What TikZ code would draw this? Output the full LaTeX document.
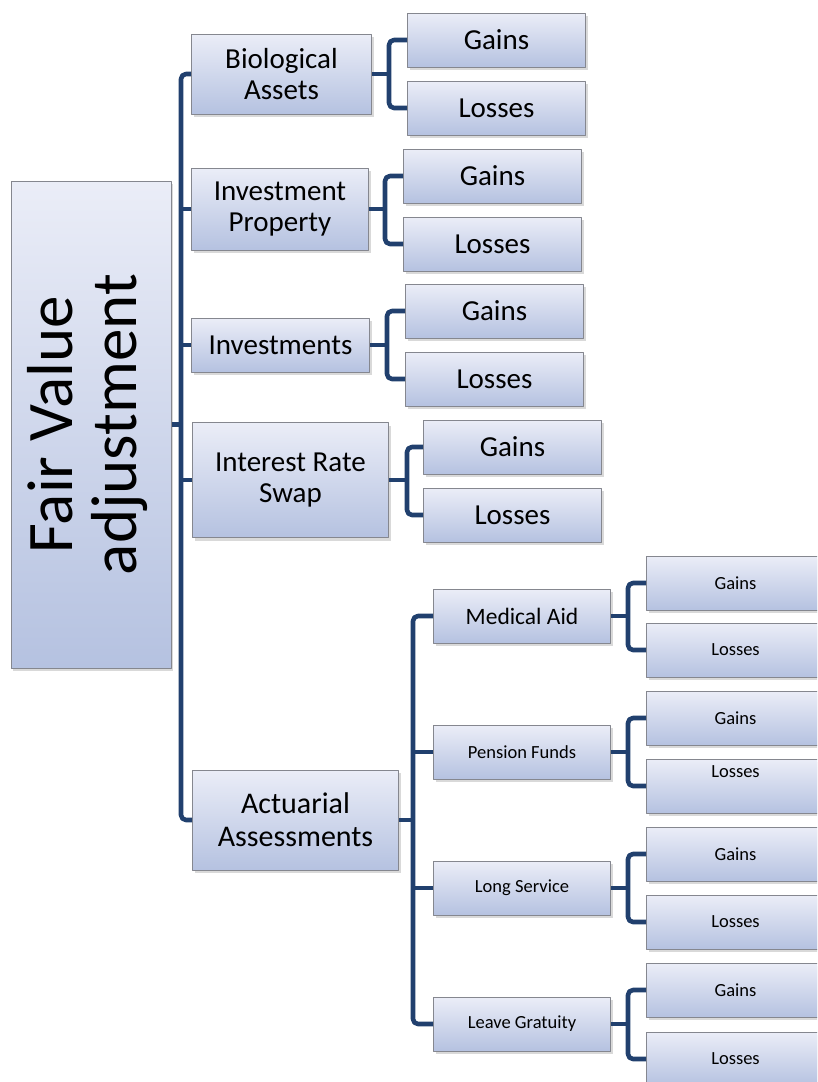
\documentclass[tikz,border=0pt]{standalone}
\usepackage{fontspec}
\setmainfont{Carlito}
\usepackage{graphicx}
\usepackage{tikz}
\usetikzlibrary{calc}
\usetikzlibrary{shadows}
\definecolor{linkblue}{rgb}{0.13,0.25,0.43}
\definecolor{boxtop}{rgb}{0.92,0.93,0.97}
\definecolor{boxbottom}{rgb}{0.71,0.76,0.88}
\definecolor{boxedge}{rgb}{0.52,0.53,0.56}
\tikzset{
  box/.style={draw=boxedge,line width=1pt,top color=boxtop,bottom color=boxbottom,
    drop shadow={shadow xshift=2pt,shadow yshift=-3pt,opacity=0.3},
    inner sep=2pt,align=center,anchor=west},
  big/.style={box,font=\fontsize{29}{31.5}\selectfont},
  leaf/.style={box,minimum width=178,minimum height=54,font=\fontsize{18.5}{20}\selectfont},
  link/.style={draw=linkblue,line width=4.6pt,rounded corners=5pt}
}

\begin{document}
\begin{tikzpicture}[x=1pt,y=-1pt,line join=round]
\useasboundingbox (0,0) rectangle (817,1082);
\clip (0,0) rectangle (817,1082);

% root
\node[box,anchor=center,minimum width=160,minimum height=487,font=\fontsize{65}{68}\selectfont] (root) at (91,424.5)
  {\raisebox{-8pt}{\rotatebox{90}{\begin{tabular}{@{}c@{}}Fair Value\\[-4pt]adjustment\end{tabular}}}};

% first level
\node[big,minimum width=180,minimum height=80] (bio) at (191,74) {Biological\\Assets};
\node[big,minimum width=177,minimum height=82] (prop) at (191,209) {Investment\\Property};
\node[big,minimum width=178,minimum height=54] (inv) at (191,345) {Investments};
\node[big,minimum width=196,minimum height=115] (irs) at (192,480) {Interest Rate\\Swap};
\node[big,minimum width=206,minimum height=100,font=\fontsize{30}{33}\selectfont] (act) at (192,820) {Actuarial\\Assessments};

% gains and losses
\node[big,minimum width=178,minimum height=54] (bioG) at (407,40) {Gains};
\node[big,minimum width=178,minimum height=54] (bioL) at (407,108) {Losses};
\node[big,minimum width=178,minimum height=54] (propG) at (403,176) {Gains};
\node[big,minimum width=178,minimum height=54] (propL) at (403,244) {Losses};
\node[big,minimum width=178,minimum height=54] (invG) at (405,311) {Gains};
\node[big,minimum width=178,minimum height=54] (invL) at (405,379) {Losses};
\node[big,minimum width=178,minimum height=54] (irsG) at (423,447) {Gains};
\node[big,minimum width=178,minimum height=54] (irsL) at (423,515) {Losses};

% actuarial parts
\node[leaf,minimum width=177,font=\fontsize{23.5}{25}\selectfont] (med) at (433,616) {Medical Aid};
\node[leaf,minimum width=177] (pen) at (433,752) {Pension Funds};
\node[leaf,minimum width=177] (long) at (433,888) {Long Service};
\node[leaf,minimum width=177] (leave) at (433,1024) {Leave Gratuity};

\node[leaf] (medG) at (646,583) {Gains};
\node[leaf] (medL) at (646,650) {Losses};
\node[leaf] (penG) at (646,718) {Gains};
\node[leaf,text height=14,text depth=32,inner ysep=4pt] (penL) at (646,786) {Losses};
\node[leaf] (longG) at (646,854) {Gains};
\node[leaf] (longL) at (646,922) {Losses};
\node[leaf] (leaveG) at (646,990) {Gains};
\node[leaf] (leaveL) at (646,1059) {Losses};

% connectors
\coordinate (spine) at (181,424.5);
\draw[link] (bio.west) -| (spine) |- (act.west);
\draw[link] (root.east) -- (spine);
\foreach \n in {prop,inv,irs}
  \draw[link] (\n.west) -- (\n.west -| spine);

\coordinate (branch) at (413,820);
\draw[link] (med.west) -| (branch) |- (leave.west);
\draw[link] (act.east) -- (branch);
\foreach \n in {pen,long}
  \draw[link] (\n.west) -- (\n.west -| branch);

\foreach \n/\x in {bio/389,prop/385,inv/387,irs/407,med/628,pen/628,long/628,leave/628} {
  \draw[link] (\n.east) -- (\x,0 |- \n.east) coordinate (\n J);
  \draw[link] (\n G.west) -| (\n J) |- (\n L.west);
}
\end{tikzpicture}
\end{document}
